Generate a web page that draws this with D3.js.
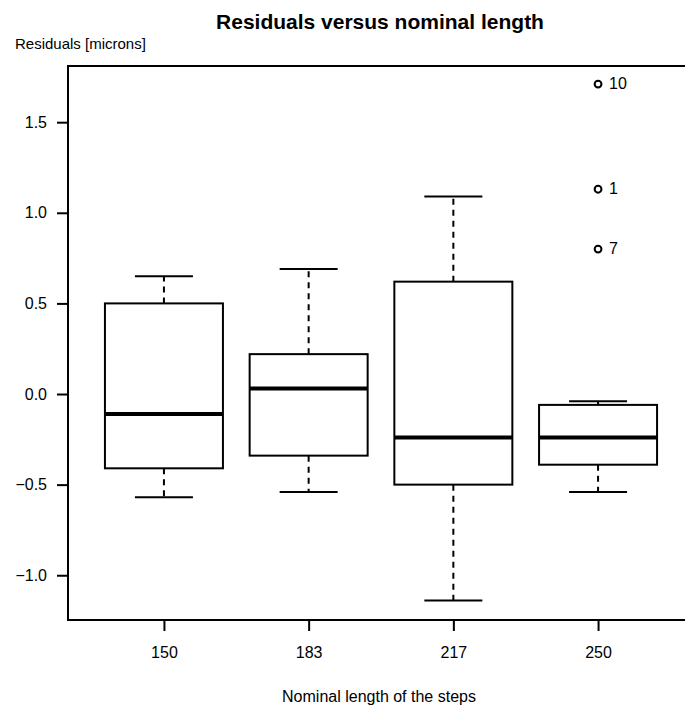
<!DOCTYPE html>
<html>
<head>
<meta charset="utf-8">
<script src="https://cdn.jsdelivr.net/npm/d3@7"></script>
<style>
  body { margin: 0; background: #fff; }
  svg { display: block; font-family: "Liberation Sans", Arial, sans-serif; }
</style>
</head>
<body>
<svg id="chart" width="685" height="708"></svg>
<script>
// nominal lengths (groups)
let lengths = ['150', '183', '217', '250'];
// box statistics per group
let whiskerLow  = [-0.57, -0.54, -1.14, -0.54];
let q1          = [-0.41, -0.34, -0.50, -0.39];
let median      = [-0.11,  0.03, -0.24, -0.24];
let q3          = [ 0.50,  0.22,  0.62, -0.06];
let whiskerHigh = [ 0.65,  0.69,  1.09, -0.04];
// outliers
let outGroup = ['250', '250', '250'];
let outValue = [1.71, 1.13, 0.80];
let outLabel = ['10', '1', '7'];
let yTicks = [-1.0, -0.5, 0.0, 0.5, 1.0, 1.5];

let svg = d3.select('#chart');

let mLeft = 68, mRight = 694, mTop = 66, mBottom = 620;

let x = d3.scalePoint()
    .domain(lengths)
    .range([mLeft, mRight])
    .padding(0.663);

let y = d3.scaleLinear()
    .domain([-1.247, 1.81])
    .range([mBottom, mTop]);

let boxHalf = 59, capHalf = 29;

// frame (left, top, bottom)
svg.append('path')
    .attr('d', 'M' + mRight + ',' + mTop + 'H' + mLeft + 'V' + mBottom + 'H' + mRight)
    .attr('fill', 'none')
    .attr('stroke', '#000')
    .attr('stroke-width', 2);

// y axis
let yAxis = svg.append('g')
    .attr('transform', 'translate(' + mLeft + ',0)')
    .call(d3.axisLeft(y).tickValues(yTicks).tickSize(11).tickPadding(10)
      .tickFormat(d3.format('.1f')));
yAxis.select('.domain').remove();
yAxis.selectAll('line').attr('stroke-width', 2);
yAxis.selectAll('text').attr('font-size', 16).attr('font-family', 'Liberation Sans, Arial, sans-serif')
    .text(function(d) { return d3.format('.1f')(d).replace('-', '\u2212'); });

// x axis
let xAxis = svg.append('g')
    .attr('transform', 'translate(0,' + mBottom + ')')
    .call(d3.axisBottom(x).tickSize(11).tickPadding(16));
xAxis.select('.domain').remove();
xAxis.selectAll('line').attr('stroke-width', 2);
xAxis.selectAll('text').attr('font-size', 16).attr('font-family', 'Liberation Sans, Arial, sans-serif');

let boxes = lengths.map(function(k, i) {
  return {k: k, lo: whiskerLow[i], q1: q1[i], med: median[i], q3: q3[i], hi: whiskerHigh[i]};
});

let g = svg.append('g').attr('class', 'boxes');
let b = g.selectAll('g').data(boxes).enter().append('g');

// whiskers (dashed)
b.append('line')
    .attr('x1', function(d) { return x(d.k); })
    .attr('x2', function(d) { return x(d.k); })
    .attr('y1', function(d) { return y(d.q3); })
    .attr('y2', function(d) { return y(d.hi); })
    .attr('stroke', '#000').attr('stroke-width', 2).attr('stroke-dasharray', '6,5');
b.append('line')
    .attr('x1', function(d) { return x(d.k); })
    .attr('x2', function(d) { return x(d.k); })
    .attr('y1', function(d) { return y(d.q1); })
    .attr('y2', function(d) { return y(d.lo); })
    .attr('stroke', '#000').attr('stroke-width', 2).attr('stroke-dasharray', '6,5');

// caps
['hi', 'lo'].forEach(function(key) {
  b.append('line')
      .attr('x1', function(d) { return x(d.k) - capHalf; })
      .attr('x2', function(d) { return x(d.k) + capHalf; })
      .attr('y1', function(d) { return y(d[key]); })
      .attr('y2', function(d) { return y(d[key]); })
      .attr('stroke', '#000').attr('stroke-width', 2);
});

// box
b.append('rect')
    .attr('x', function(d) { return x(d.k) - boxHalf; })
    .attr('width', boxHalf * 2)
    .attr('y', function(d) { return y(d.q3); })
    .attr('height', function(d) { return y(d.q1) - y(d.q3); })
    .attr('fill', 'none').attr('stroke', '#000').attr('stroke-width', 2);

// median
b.append('line')
    .attr('x1', function(d) { return x(d.k) - boxHalf; })
    .attr('x2', function(d) { return x(d.k) + boxHalf; })
    .attr('y1', function(d) { return y(d.med); })
    .attr('y2', function(d) { return y(d.med); })
    .attr('stroke', '#000').attr('stroke-width', 4);

// outliers
let outs = outValue.map(function(v, i) { return {k: outGroup[i], v: v, lab: outLabel[i]}; });
svg.append('g').selectAll('circle').data(outs).enter().append('circle')
    .attr('cx', function(d) { return x(d.k); })
    .attr('cy', function(d) { return y(d.v); })
    .attr('r', 3.4)
    .attr('fill', 'none').attr('stroke', '#000').attr('stroke-width', 2);
svg.append('g').selectAll('text').data(outs).enter().append('text')
    .attr('x', function(d) { return x(d.k) + 11; })
    .attr('y', function(d) { return y(d.v) + 5; })
    .attr('font-size', 16)
    .text(function(d) { return d.lab; });

// titles
svg.append('text')
    .attr('x', 380).attr('y', 29)
    .attr('text-anchor', 'middle')
    .attr('font-size', 21).attr('font-weight', 'bold')
    .text('Residuals versus nominal length');
svg.append('text')
    .attr('x', 15).attr('y', 49)
    .attr('font-size', 15)
    .text('Residuals [microns]');
svg.append('text')
    .attr('x', 379).attr('y', 702)
    .attr('text-anchor', 'middle')
    .attr('font-size', 16)
    .text('Nominal length of the steps');
</script>
</body>
</html>
